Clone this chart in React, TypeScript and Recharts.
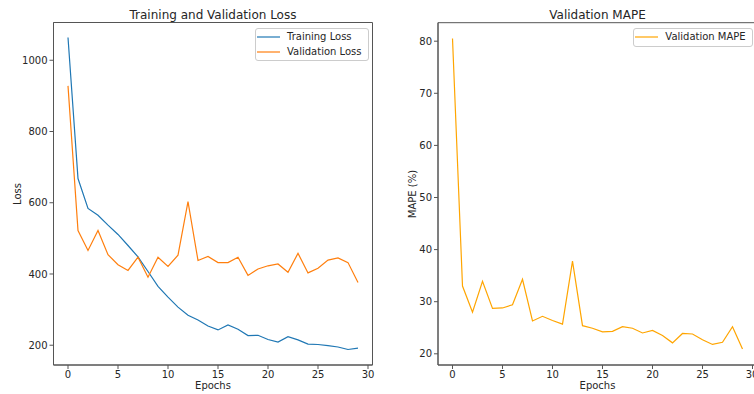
import React from "react";
import { LineChart, Line, XAxis, YAxis, Legend, ReferenceArea } from "recharts";

const epochs = [0, 1, 2, 3, 4, 5, 6, 7, 8, 9, 10, 11, 12, 13, 14, 15, 16, 17, 18, 19, 20, 21, 22, 23, 24, 25, 26, 27, 28, 29];

const trainingLoss = [1064, 668, 584, 565, 537, 511, 480, 448, 407, 365, 335, 307, 284, 271, 254, 243, 257, 245, 227, 228, 216, 209, 224, 215, 203, 202, 199, 195, 188, 192];
const validationLoss = [928, 522, 466, 522, 454, 426, 410, 447, 391, 447, 421, 453, 603, 438, 449, 432, 432, 447, 396, 414, 423, 428, 405, 458, 403, 416, 439, 445, 432, 376];
const validationMape = [80.5, 33.0, 28.0, 33.9, 28.7, 28.8, 29.4, 34.3, 26.3, 27.2, 26.4, 25.7, 37.8, 25.4, 24.9, 24.2, 24.3, 25.2, 24.9, 24.0, 24.5, 23.5, 22.1, 23.9, 23.8, 22.7, 21.8, 22.2, 25.2, 20.9];

const xTicks = [0, 5, 10, 15, 20, 25, 30];
const lossTicks = [200, 400, 600, 800, 1000];
const mapeTicks = [20, 30, 40, 50, 60, 70, 80];

const FONT = "DejaVu Sans";
const TEXT = "#262626";
const SPINE = "#555555";

const xDomain: [number, number] = [-1.45, 30.45];
const lossDomain: [number, number] = [144.5, 1106];
const mapeDomain: [number, number] = [17.85, 83.55];

const lossData = epochs.map((e, i) => ({
  epoch: e,
  train: trainingLoss[i],
  val: validationLoss[i],
}));
const mapeData = epochs.map((e, i) => ({ epoch: e, mape: validationMape[i] }));

const tickStyle = { fontSize: 10, fill: TEXT, fontFamily: FONT };

function BoxLegend(props: any) {
  const items = props.payload || [];
  return (
    <div
      style={{
        border: "1px solid #cccccc",
        borderRadius: 3,
        background: "rgba(255,255,255,0.8)",
        padding: "1px 6px 1px 0",
        fontFamily: FONT,
        fontSize: 10,
        color: TEXT,
      }}
    >
      {items.map((it: any) => (
        <div key={it.value} style={{ display: "flex", alignItems: "center", height: 14.6 }}>
          <svg width={31} height={10} style={{ display: "block" }}>
            <line x1={1} x2={24} y1={5} y2={5} stroke={it.color} strokeWidth={1.2} />
          </svg>
          <span style={{ whiteSpace: "nowrap", lineHeight: "12px" }}>{it.value}</span>
        </div>
      ))}
    </div>
  );
}

export default function App() {
  return (
    <div
      style={{
        position: "absolute",
        left: 0,
        top: 0,
        width: 754,
        height: 394,
        overflow: "hidden",
        background: "#fff",
      }}
    >
      {/* left: loss */}
      <div style={{ position: "absolute", left: 0, top: 0 }}>
        <LineChart
          width={380}
          height={394}
          data={lossData}
          margin={{ top: 22.5, right: 7.5, bottom: 0, left: 0 }}
        >
          <XAxis
            dataKey="epoch"
            type="number"
            domain={xDomain}
            ticks={xTicks}
            allowDataOverflow
            height={29}
            tickSize={4}
            tickMargin={2}
            tick={tickStyle}
            stroke={SPINE}
          />
          <YAxis
            type="number"
            domain={lossDomain}
            ticks={lossTicks}
            allowDataOverflow
            width={53.5}
            tickSize={4}
            tickMargin={2}
            tick={tickStyle}
            stroke={SPINE}
          />
          {/* box frame */}
          <ReferenceArea
            x1={xDomain[0]}
            x2={xDomain[1]}
            y1={lossDomain[0]}
            y2={lossDomain[1]}
            fill="none"
            stroke={SPINE}
            strokeWidth={1}
            ifOverflow="visible"
          />
          <Legend
            layout="vertical"
            align="center"
            verticalAlign="middle"
            content={BoxLegend}
            wrapperStyle={{ top: 28, right: 11.5, left: "auto", bottom: "auto", width: "auto" }}
          />
          <Line name="Training Loss" dataKey="train" stroke="#1f77b4" strokeWidth={1.2} dot={false} isAnimationActive={false} />
          <Line name="Validation Loss" dataKey="val" stroke="#ff7f0e" strokeWidth={1.2} dot={false} isAnimationActive={false} />
        </LineChart>
      </div>

      {/* right: MAPE */}
      <div style={{ position: "absolute", left: 380, top: 0 }}>
        <LineChart
          width={377}
          height={394}
          data={mapeData}
          margin={{ top: 22.7, right: 0, bottom: 0, left: 0 }}
        >
          <XAxis
            dataKey="epoch"
            type="number"
            domain={xDomain}
            ticks={xTicks}
            allowDataOverflow
            height={29}
            tickSize={4}
            tickMargin={2}
            tick={tickStyle}
            stroke={SPINE}
          />
          <YAxis
            type="number"
            domain={mapeDomain}
            ticks={mapeTicks}
            allowDataOverflow
            width={58}
            tickSize={4}
            tickMargin={2}
            tick={tickStyle}
            stroke={SPINE}
          />
          <ReferenceArea
            x1={xDomain[0]}
            x2={xDomain[1]}
            y1={mapeDomain[0]}
            y2={mapeDomain[1]}
            fill="none"
            stroke={SPINE}
            strokeWidth={1}
            ifOverflow="visible"
          />
          <Legend
            layout="vertical"
            align="center"
            verticalAlign="middle"
            content={BoxLegend}
            wrapperStyle={{ top: 28, right: 4.3, left: "auto", bottom: "auto", width: "auto" }}
          />
          <Line name="Validation MAPE" dataKey="mape" stroke="#ffa500" strokeWidth={1.2} dot={false} isAnimationActive={false} />
        </LineChart>
      </div>

      {/* titles and axis labels */}
      <svg
        width={754}
        height={394}
        style={{ position: "absolute", left: 0, top: 0, pointerEvents: "none" }}
        fontFamily={FONT}
        fill={TEXT}
      >
        <text x={213} y={18.5} fontSize={12} textAnchor="middle">Training and Validation Loss</text>
        <text x={597.5} y={18.5} fontSize={12} textAnchor="middle">Validation MAPE</text>
        <text x={213} y={389} fontSize={10} textAnchor="middle">Epochs</text>
        <text x={597.5} y={389} fontSize={10} textAnchor="middle">Epochs</text>
        <text x={20.5} y={194} fontSize={10} textAnchor="middle" transform="rotate(-90 20.5 194)">Loss</text>
        <text x={416} y={194} fontSize={10} textAnchor="middle" transform="rotate(-90 416 194)">MAPE (%)</text>
      </svg>
    </div>
  );
}
